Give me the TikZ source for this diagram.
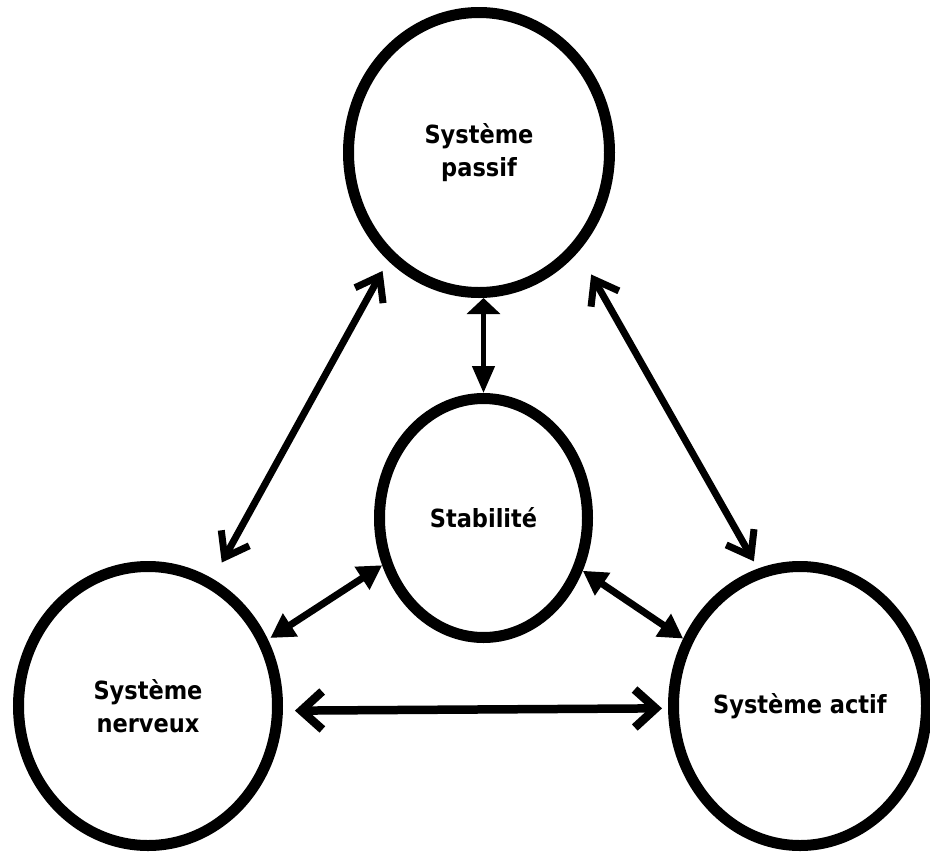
\documentclass[tikz,border=0pt]{standalone}
\usepackage{fontspec}
\setmainfont{DejaVu Sans Condensed}
\usetikzlibrary{shapes.geometric,arrows.meta}
\begin{document}
\begin{tikzpicture}[x=1pt,y=-1pt,
  circ/.style={draw,ellipse,line width=11pt,inner sep=0pt,align=center,
    font=\fontsize{25}{33}\selectfont\bfseries},
  diag/.style={line width=7pt,>={Straight Barb[length=22pt,width=32pt,line width=7pt]},<->},
  horiz/.style={line width=8.5pt,>={Straight Barb[length=21pt,width=38pt,line width=8.5pt]},<->},
  tri/.style={line width=7pt,>={Triangle[length=24pt,width=26pt]},<->},
  vert/.style={line width=4.5pt,{Triangle[length=16pt,width=33pt]}-{Triangle[length=27pt,width=22pt]}}
]
\useasboundingbox (0,0) rectangle (930,852);
\fill[white] (0,0) rectangle (930,852);
\node[circ,minimum width=261pt,minimum height=280pt] (top) at (479,152.5) {Système\\passif};
\node[circ,minimum width=208pt,minimum height=239pt] (stab) at (483.5,518) {Stabilité};
\node[circ,minimum width=259pt,minimum height=279pt] (nerv) at (148,706) {Système\\nerveux};
\node[circ,minimum width=253pt,minimum height=279pt] (actif) at (800,706) {Système actif};

\draw[diag,shorten <=11.6pt,shorten >=18.6pt] (top.230.2) -- (nerv.63.4);
\draw[diag,shorten <=26pt,shorten >=8.3pt] (top.315.8) -- (actif.107.8);
\draw[vert] (stab.north |- top.south) -- (stab.north);
\draw[tri,shorten >=2.8pt] (stab.205.8) -- (nerv.29.3);
\draw[tri] (stab.332.7) -- (actif.150.5);
\draw[horiz,shorten <=12pt,shorten >=6pt] (nerv.358.3) -- (actif.181.7);
\end{tikzpicture}
\end{document}
